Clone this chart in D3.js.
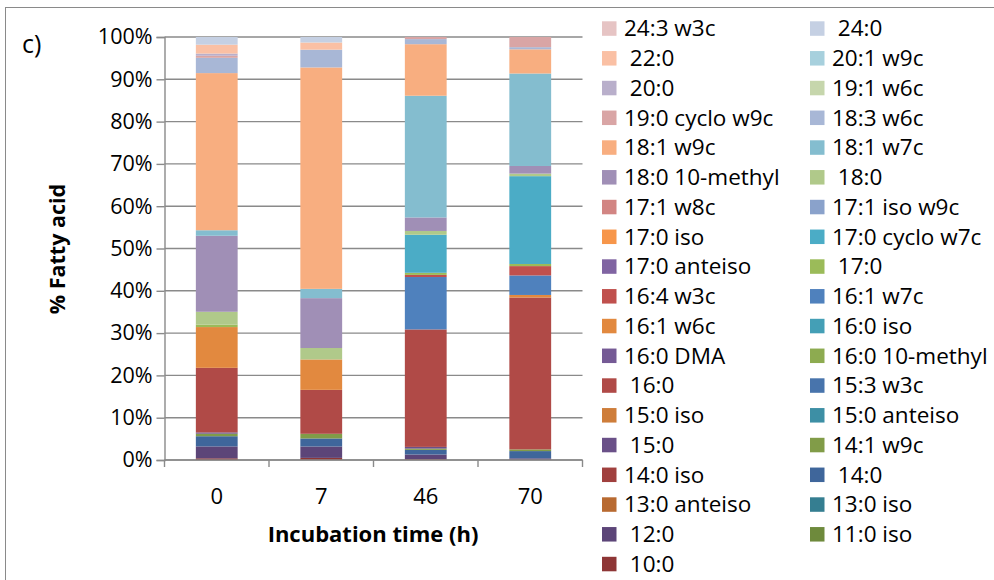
<!DOCTYPE html>
<html>
<head>
<meta charset="utf-8">
<script src="https://cdn.jsdelivr.net/npm/d3@7"></script>
<style>
  html, body { margin: 0; padding: 0; background: #fff; }
  svg { display: block; }
  text { font-family: "Open Sans", "DejaVu Sans", sans-serif; fill: #000; white-space: pre; }
</style>
</head>
<body>
<svg id="chart" width="994" height="580"></svg>
<script>
// Incubation time points (h)
const times = ["0", "7", "46", "70"];

// Fatty acids, stacked from the bottom of each column upwards
const fattyAcids = [
  " 10:0", "11:0 iso", " 12:0", "13:0 iso", "13:0 anteiso", " 14:0", "14:0 iso", "14:1 w9c",
  " 15:0", "15:0 anteiso", "15:0 iso", "15:3 w3c", " 16:0", "16:0 10-methyl", "16:0 DMA",
  "16:0 iso", "16:1 w6c", "16:1 w7c", "16:4 w3c", " 17:0", "17:0 anteiso", "17:0 cyclo w7c",
  "17:0 iso", "17:1 iso w9c", "17:1 w8c", " 18:0", "18:0 10-methyl", "18:1 w7c", "18:1 w9c",
  "18:3 w6c", "19:0 cyclo w9c", "19:1 w6c", " 20:0", "20:1 w9c", " 22:0", " 24:0", "24:3 w3c"
];

// Share of each fatty acid (%) at each time point, same order as fattyAcids
const at0h  = [0.4, 0, 2.8, 0, 0, 2.4, 0, 0.6, 0.3, 0, 0, 0, 15.2, 0, 0, 0, 9.6, 0, 0, 0.6, 0, 0, 0, 0, 0, 3.0, 17.9, 1.3, 37.0, 3.6, 0.5, 0, 0.5, 0, 2.1, 1.8, 0];
const at7h  = [0.5, 0, 2.7, 0, 0, 1.9, 0, 1.1, 0, 0, 0, 0, 10.4, 0, 0, 0, 7.2, 0, 0, 0, 0, 0, 0, 0, 0, 2.7, 11.8, 2.2, 52.4, 4.2, 0, 0, 0, 0, 1.7, 1.3, 0];
const at46h = [0.2, 0, 1.1, 0, 0, 1.1, 0, 0.3, 0.4, 0, 0, 0, 27.8, 0, 0, 0, 0, 12.4, 0.5, 0.5, 0, 9.0, 0, 0, 0, 0.9, 3.2, 28.8, 12.2, 1.2, 0.5, 0, 0, 0, 0, 0, 0];
const at70h = [0.1, 0, 0.3, 0, 0, 1.7, 0, 0.4, 0, 0, 0, 0, 35.8, 0, 0, 0, 0.6, 4.6, 2.2, 0.5, 0, 20.7, 0, 0, 0, 0.6, 1.8, 21.8, 5.7, 0.5, 2.4, 0, 0, 0, 0, 0, 0];

// Y axis ticks
const yTicks = [0, 0.1, 0.2, 0.3, 0.4, 0.5, 0.6, 0.7, 0.8, 0.9, 1.0];

// Fill colour per fatty acid, same order as fattyAcids
const palette = [
  "#8e3636", "#6e8a3c", "#5c4578", "#357e91", "#b86a31", "#3f669b", "#a0403e", "#819c48",
  "#6a5088", "#3d8fa5", "#ce7d3a", "#4874ac", "#b04a47", "#8dab50", "#755a95",
  "#449fb6", "#e2893f", "#4f81bd", "#c0504d", "#9bbb59", "#8064a2", "#4bacc6",
  "#f7964a", "#8aa2cb", "#d28583", "#b0c98a", "#a08fb6", "#84bdcf", "#f8ae80",
  "#a8b7d6", "#d9a5a5", "#c6d6ac", "#b9afcb", "#a7d0dd", "#fac0a4", "#c5d0e3", "#e6c4c4"
];

const columns = [at0h, at7h, at46h, at70h];
const rows = times.map((t, i) => {
  const r = { time: t };
  fattyAcids.forEach((fa, j) => { r[fa] = columns[i][j]; });
  return r;
});

const svg = d3.select("#chart");

// frame around the figure
svg.append("rect")
  .attr("x", 5.5).attr("y", 7.5)
  .attr("width", 1100).attr("height", 700)
  .attr("fill", "#fff").attr("stroke", "#8a8a8a").attr("stroke-width", 1);

const plot = { left: 164.5, right: 582.5, top: 37, bottom: 460 };

const x = d3.scaleBand()
  .domain(times)
  .range([plot.left, plot.right])
  .paddingInner(0.6)
  .paddingOuter(0.3);

const y = d3.scaleLinear().domain([0, 1]).range([plot.bottom, plot.top]);

const stack = d3.stack().keys(fattyAcids).offset(d3.stackOffsetExpand);
const layers = stack(rows);

// horizontal gridlines
svg.append("g")
  .selectAll("line")
  .data(yTicks)
  .join("line")
  .attr("x1", plot.left).attr("x2", plot.right)
  .attr("y1", d => y(d)).attr("y2", d => y(d))
  .attr("stroke", "#8a8a8a").attr("stroke-width", 1.4);

// stacked columns
svg.append("g")
  .selectAll("g")
  .data(layers)
  .join("g")
  .attr("fill", (d, i) => palette[i])
  .selectAll("rect")
  .data(d => d)
  .join("rect")
  .attr("x", d => x(d.data.time))
  .attr("width", x.bandwidth())
  .attr("y", d => y(d[1]))
  .attr("height", d => Math.max(0, y(d[0]) - y(d[1])));

// Y axis
const yAxis = svg.append("g")
  .attr("transform", `translate(${plot.left},0)`)
  .call(d3.axisLeft(y).tickValues(yTicks).tickFormat(d3.format(".0%")).tickSize(8).tickPadding(4));
yAxis.select(".domain").attr("stroke", "#8a8a8a").attr("stroke-width", 1.4);
yAxis.selectAll(".tick line").attr("stroke", "#8a8a8a").attr("stroke-width", 1.4);
yAxis.selectAll(".tick text")
  .style("font-family", '"Open Sans", sans-serif')
  .style("font-size", "21.5px")
  .attr("fill", "#000");

// X axis with ticks between categories
const xAxisG = svg.append("g").attr("transform", `translate(0,${plot.bottom})`);
xAxisG.append("line")
  .attr("x1", plot.left).attr("x2", plot.right)
  .attr("stroke", "#8a8a8a").attr("stroke-width", 1.4);
const boundaries = d3.range(times.length + 1).map(i => plot.left + i * x.step());
xAxisG.selectAll("line.tick")
  .data(boundaries)
  .join("line")
  .attr("class", "tick")
  .attr("x1", d => d).attr("x2", d => d)
  .attr("y1", 0).attr("y2", 7)
  .attr("stroke", "#8a8a8a").attr("stroke-width", 1.4);
xAxisG.selectAll("text")
  .data(times)
  .join("text")
  .attr("x", d => x(d) + x.bandwidth() / 2)
  .attr("y", 44)
  .attr("text-anchor", "middle")
  .style("font-size", "22px")
  .text(d => d);

// axis titles
svg.append("text")
  .attr("x", 373).attr("y", 542)
  .attr("text-anchor", "middle")
  .style("font-size", "22px").style("font-weight", "bold")
  .text("Incubation time (h)");

svg.append("text")
  .attr("transform", "translate(65,249) rotate(-90)")
  .attr("text-anchor", "middle")
  .style("font-size", "21.5px").style("font-weight", "bold")
  .text("% Fatty acid");

// panel label
svg.append("text")
  .attr("x", 22).attr("y", 53)
  .style("font-size", "25px")
  .text("c)");

// legend: two columns, listed from the top of the stack downwards
const legendItems = fattyAcids.map((fa, i) => ({ name: fa, color: palette[i] })).reverse();
const legend = svg.append("g");
const rowH = 29.75;
const legendRows = legend.selectAll("g")
  .data(legendItems)
  .join("g")
  .attr("transform", (d, i) => {
    const col = i % 2;
    const row = Math.floor(i / 2);
    return `translate(${col === 0 ? 602 : 810},${28.8 + row * rowH})`;
  });
legendRows.append("rect")
  .attr("x", 0).attr("y", -7.5)
  .attr("width", 14.5).attr("height", 14.5)
  .attr("fill", d => d.color);
legendRows.append("text")
  .attr("x", 22).attr("y", 0)
  .attr("dy", "0.34em")
  .style("font-size", "22.5px")
  .text(d => d.name);
</script>
</body>
</html>
